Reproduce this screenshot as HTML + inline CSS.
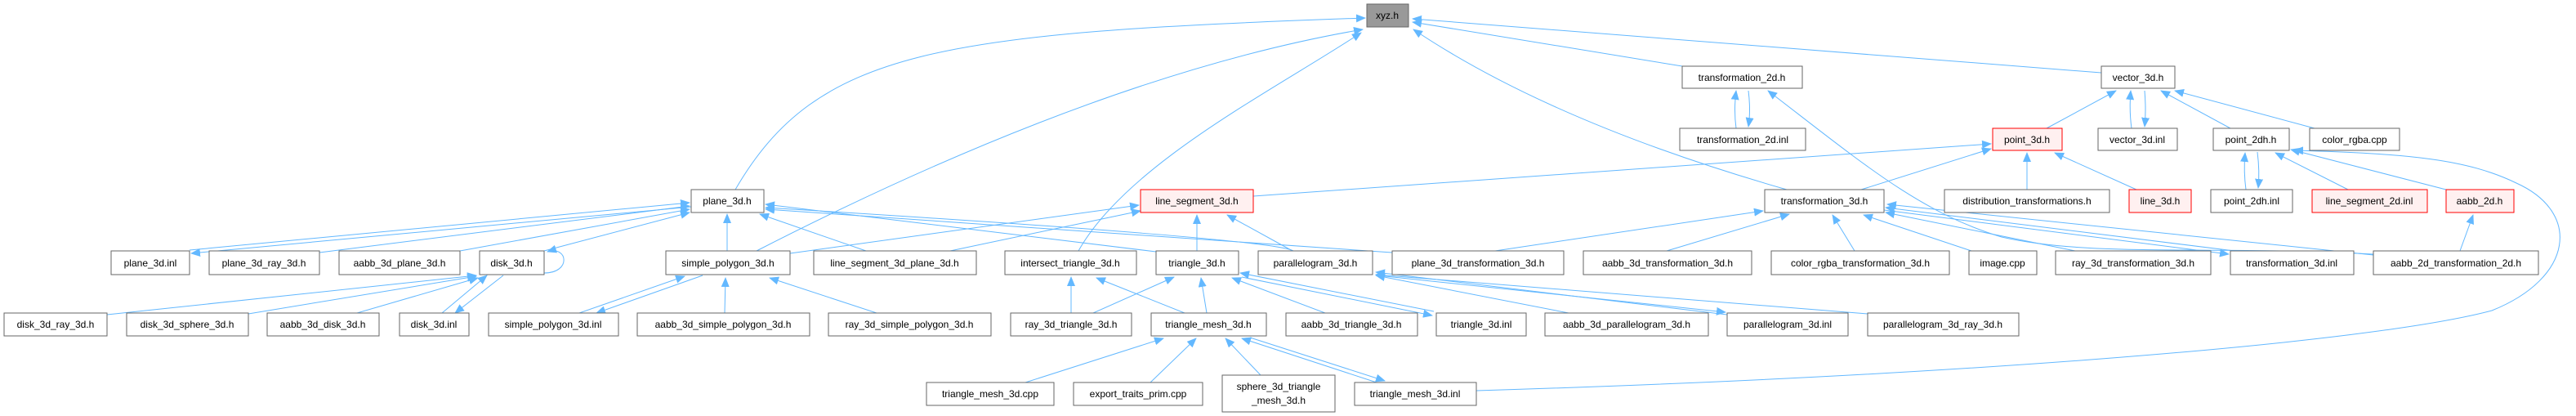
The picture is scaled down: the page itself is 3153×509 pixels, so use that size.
<!DOCTYPE html>
<html><head><meta charset="utf-8"><style>
html,body{margin:0;padding:0;background:#fff}
svg{display:block}
text{font-family:"Liberation Sans",sans-serif;font-size:12px;fill:#000;text-anchor:middle}
.n{fill:#fff;stroke:#666;stroke-width:1}
.r{fill:#fff0f0;stroke:#f00;stroke-width:1}
.e{fill:none;stroke:#63b8ff;stroke-width:1}
</style></head><body>
<svg width="3153" height="509" viewBox="0 0 3153 509" xmlns="http://www.w3.org/2000/svg">
<defs><marker id="a" markerWidth="12" markerHeight="10" refX="11" refY="5" orient="auto" markerUnits="userSpaceOnUse"><path d="M0,0 L12,5 L0,10z" fill="#63b8ff"/></marker></defs>
<g class="e" marker-end="url(#a)">
<path d="M900,232 C1000,60 1150,40 1671,22"/>
<path d="M926,307 Q1350,90 1668,36"/>
<path d="M1320,307 C1380,200 1560,110 1666,40"/>
<path d="M2059,81 L1729,27"/>
<path d="M2572,89 L1729,23"/>
<path d="M2187,232 Q1900,150 1730,36"/>
<path d="M232,306 L844,248"/>
<path d="M846,253 L234,310"/>
<path d="M391,309 L844,252"/>
<path d="M563,307 L844,256"/>
<path d="M666,307 L844,260"/>
<path d="M890,307 L890,262"/>
<path d="M1060,307 L930,262"/>
<path d="M1415,308 L937,250"/>
<path d="M1583,307 Q1560,292 937,254"/>
<path d="M1704,309 L937,256"/>
<path d="M131,385 L583,337"/>
<path d="M304,384 L583,338"/>
<path d="M437,383 L585,340"/>
<path d="M541,383 L596,337"/>
<path d="M616,337 L557,383"/>
<path d="M666,334 C700,334 695,300 670,308"/>
<path d="M709,383 L838,338"/>
<path d="M860,337 L730,383"/>
<path d="M887,383 L888,340"/>
<path d="M1073,383 L942,340"/>
<path d="M967,310 L1394,251"/>
<path d="M1163,307 L1396,258"/>
<path d="M1465,307 L1465,263"/>
<path d="M1582,307 L1502,263"/>
<path d="M1534,240 L2437,176"/>
<path d="M1311,383 L1311,339"/>
<path d="M1450,383 L1342,340"/>
<path d="M1338,383 L1437,339"/>
<path d="M1477,383 L1470,340"/>
<path d="M1622,383 L1508,340"/>
<path d="M1755,381 L1518,334"/>
<path d="M1520,339 L1753,386"/>
<path d="M1920,383 L1684,337"/>
<path d="M2114,385 L1684,333"/>
<path d="M1686,337 L2112,382"/>
<path d="M2286,384 L1684,336"/>
<path d="M1255,468 L1424,414"/>
<path d="M1408,468 L1464,414"/>
<path d="M1543,459 L1500,414"/>
<path d="M1685,468 L1520,414"/>
<path d="M1530,413 L1695,466"/>
<path d="M1807,478 C2400,460 2900,420 3050,380 C3150,340 3160,260 3080,224 C3020,195 2950,188 2808,184"/>
<path d="M2125,157 Q2122,135 2125,111"/>
<path d="M2140,111 Q2143,135 2140,155"/>
<path d="M2905,311 C2700,300 2560,315 2450,290 C2350,260 2280,200 2164,111"/>
<path d="M1830,307 L2158,258"/>
<path d="M2040,307 L2190,262"/>
<path d="M2270,307 L2243,263"/>
<path d="M2413,307 L2281,263"/>
<path d="M2540,307 L2308,260"/>
<path d="M2735,307 L2308,254"/>
<path d="M2306,257 L2728,311"/>
<path d="M2905,312 L2310,250"/>
<path d="M2278,232 L2437,182"/>
<path d="M2481,232 L2481,187"/>
<path d="M2615,232 L2515,187"/>
<path d="M2505,157 L2590,111"/>
<path d="M2609,157 Q2606,135 2608,111"/>
<path d="M2625,111 Q2627,135 2625,155"/>
<path d="M2730,157 L2645,111"/>
<path d="M2833,157 L2662,111"/>
<path d="M2749,232 Q2746,210 2748,187"/>
<path d="M2763,186 Q2766,210 2764,230"/>
<path d="M2874,232 L2785,187"/>
<path d="M2994,232 L2804,183"/>
<path d="M3011,307 L3027,263"/>
</g>
<rect x="1673" y="5" width="51" height="28" fill="#999" stroke="#666"/><text x="1698" y="23">xyz.h</text>
<rect class="n" x="846" y="232" width="89" height="28"/><text x="890" y="250">plane_3d.h</text>
<rect class="r" x="1396" y="232" width="138" height="28"/><text x="1465" y="250">line_segment_3d.h</text>
<rect class="n" x="2059" y="81" width="147" height="27"/><text x="2132" y="99">transformation_2d.h</text>
<rect class="n" x="2056" y="157" width="154" height="27"/><text x="2133" y="175">transformation_2d.inl</text>
<rect class="n" x="2160" y="232" width="146" height="28"/><text x="2233" y="250">transformation_3d.h</text>
<rect class="n" x="2572" y="81" width="90" height="27"/><text x="2617" y="99">vector_3d.h</text>
<rect class="r" x="2439" y="157" width="85" height="27"/><text x="2481" y="175">point_3d.h</text>
<rect class="n" x="2568" y="157" width="97" height="27"/><text x="2616" y="175">vector_3d.inl</text>
<rect class="n" x="2709" y="157" width="93" height="27"/><text x="2755" y="175">point_2dh.h</text>
<rect class="n" x="2827" y="157" width="110" height="27"/><text x="2882" y="175">color_rgba.cpp</text>
<rect class="n" x="2380" y="232" width="202" height="28"/><text x="2481" y="250">distribution_transformations.h</text>
<rect class="r" x="2606" y="232" width="76" height="28"/><text x="2644" y="250">line_3d.h</text>
<rect class="n" x="2706" y="232" width="100" height="28"/><text x="2756" y="250">point_2dh.inl</text>
<rect class="r" x="2830" y="232" width="141" height="28"/><text x="2900" y="250">line_segment_2d.inl</text>
<rect class="r" x="2994" y="232" width="83" height="28"/><text x="3035" y="250">aabb_2d.h</text>
<rect class="n" x="136" y="307" width="96" height="29"/><text x="184" y="326">plane_3d.inl</text>
<rect class="n" x="256" y="307" width="135" height="29"/><text x="323" y="326">plane_3d_ray_3d.h</text>
<rect class="n" x="415" y="307" width="148" height="29"/><text x="489" y="326">aabb_3d_plane_3d.h</text>
<rect class="n" x="587" y="307" width="79" height="29"/><text x="626" y="326">disk_3d.h</text>
<rect class="n" x="815" y="307" width="152" height="29"/><text x="891" y="326">simple_polygon_3d.h</text>
<rect class="n" x="996" y="307" width="199" height="29"/><text x="1095" y="326">line_segment_3d_plane_3d.h</text>
<rect class="n" x="1230" y="307" width="161" height="29"/><text x="1310" y="326">intersect_triangle_3d.h</text>
<rect class="n" x="1415" y="307" width="101" height="29"/><text x="1465" y="326">triangle_3d.h</text>
<rect class="n" x="1540" y="307" width="140" height="29"/><text x="1610" y="326">parallelogram_3d.h</text>
<rect class="n" x="1704" y="307" width="210" height="29"/><text x="1809" y="326">plane_3d_transformation_3d.h</text>
<rect class="n" x="1938" y="307" width="206" height="29"/><text x="2041" y="326">aabb_3d_transformation_3d.h</text>
<rect class="n" x="2168" y="307" width="218" height="29"/><text x="2277" y="326">color_rgba_transformation_3d.h</text>
<rect class="n" x="2410" y="307" width="83" height="29"/><text x="2451" y="326">image.cpp</text>
<rect class="n" x="2516" y="307" width="190" height="29"/><text x="2611" y="326">ray_3d_transformation_3d.h</text>
<rect class="n" x="2730" y="307" width="151" height="29"/><text x="2805" y="326">transformation_3d.inl</text>
<rect class="n" x="2905" y="307" width="202" height="29"/><text x="3006" y="326">aabb_2d_transformation_2d.h</text>
<rect class="n" x="5" y="383" width="126" height="28"/><text x="68" y="401">disk_3d_ray_3d.h</text>
<rect class="n" x="155" y="383" width="149" height="28"/><text x="229" y="401">disk_3d_sphere_3d.h</text>
<rect class="n" x="327" y="383" width="137" height="28"/><text x="395" y="401">aabb_3d_disk_3d.h</text>
<rect class="n" x="489" y="383" width="85" height="28"/><text x="531" y="401">disk_3d.inl</text>
<rect class="n" x="598" y="383" width="159" height="28"/><text x="677" y="401">simple_polygon_3d.inl</text>
<rect class="n" x="780" y="383" width="211" height="28"/><text x="885" y="401">aabb_3d_simple_polygon_3d.h</text>
<rect class="n" x="1014" y="383" width="199" height="28"/><text x="1113" y="401">ray_3d_simple_polygon_3d.h</text>
<rect class="n" x="1237" y="383" width="148" height="28"/><text x="1311" y="401">ray_3d_triangle_3d.h</text>
<rect class="n" x="1409" y="383" width="141" height="28"/><text x="1479" y="401">triangle_mesh_3d.h</text>
<rect class="n" x="1574" y="383" width="161" height="28"/><text x="1654" y="401">aabb_3d_triangle_3d.h</text>
<rect class="n" x="1758" y="383" width="110" height="28"/><text x="1813" y="401">triangle_3d.inl</text>
<rect class="n" x="1891" y="383" width="200" height="28"/><text x="1991" y="401">aabb_3d_parallelogram_3d.h</text>
<rect class="n" x="2114" y="383" width="148" height="28"/><text x="2188" y="401">parallelogram_3d.inl</text>
<rect class="n" x="2286" y="383" width="185" height="28"/><text x="2378" y="401">parallelogram_3d_ray_3d.h</text>
<rect class="n" x="1134" y="468" width="156" height="28"/><text x="1212" y="486">triangle_mesh_3d.cpp</text>
<rect class="n" x="1314" y="468" width="158" height="28"/><text x="1393" y="486">export_traits_prim.cpp</text>
<rect class="n" x="1496" y="459" width="138" height="45"/><text x="1565" y="477">sphere_3d_triangle</text><text x="1565" y="494">_mesh_3d.h</text>
<rect class="n" x="1658" y="468" width="149" height="28"/><text x="1732" y="486">triangle_mesh_3d.inl</text>
</svg>
</body></html>
